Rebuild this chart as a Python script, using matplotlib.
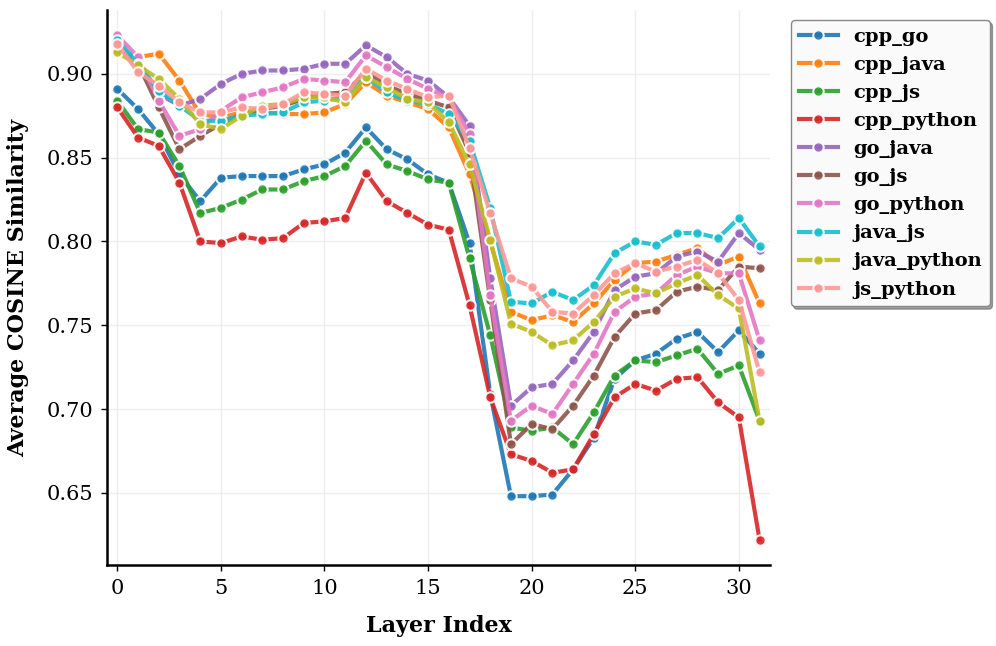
import numpy as np
import matplotlib
matplotlib.use("Agg")
from matplotlib import pyplot as plt

layers = np.arange(32)

cpp_go = [0.891, 0.879, 0.864, 0.840, 0.824, 0.838, 0.839, 0.839, 0.839, 0.843, 0.846, 0.853,
          0.868, 0.855, 0.849, 0.840, 0.835, 0.799, 0.709, 0.648, 0.648, 0.649, 0.664, 0.683,
          0.718, 0.729, 0.733, 0.742, 0.746, 0.734, 0.747, 0.733]
cpp_java = [0.914, 0.910, 0.912, 0.896, 0.876, 0.874, 0.877, 0.877, 0.876, 0.876, 0.877, 0.882,
            0.895, 0.887, 0.883, 0.879, 0.868, 0.840, 0.800, 0.758, 0.753, 0.756, 0.752, 0.763,
            0.777, 0.787, 0.788, 0.792, 0.796, 0.786, 0.791, 0.763]
cpp_js = [0.884, 0.867, 0.865, 0.845, 0.817, 0.820, 0.825, 0.831, 0.831, 0.836, 0.839, 0.845,
          0.860, 0.846, 0.842, 0.837, 0.835, 0.790, 0.744, 0.689, 0.687, 0.689, 0.679, 0.698,
          0.720, 0.729, 0.728, 0.732, 0.736, 0.721, 0.726, 0.693]
cpp_python = [0.880, 0.862, 0.857, 0.835, 0.800, 0.799, 0.803, 0.801, 0.802, 0.811, 0.812, 0.814,
              0.841, 0.824, 0.817, 0.810, 0.807, 0.762, 0.707, 0.673, 0.669, 0.662, 0.664, 0.685,
              0.707, 0.715, 0.711, 0.718, 0.719, 0.704, 0.695, 0.622]
go_java = [0.917, 0.908, 0.888, 0.881, 0.885, 0.894, 0.900, 0.902, 0.902, 0.903, 0.906, 0.906,
           0.917, 0.910, 0.900, 0.896, 0.886, 0.869, 0.778, 0.702, 0.713, 0.715, 0.729, 0.746,
           0.771, 0.779, 0.781, 0.791, 0.794, 0.788, 0.805, 0.795]
go_js = [0.915, 0.906, 0.880, 0.855, 0.863, 0.870, 0.876, 0.879, 0.881, 0.885, 0.888, 0.889,
         0.901, 0.893, 0.888, 0.884, 0.880, 0.853, 0.765, 0.679, 0.691, 0.688, 0.702, 0.720,
         0.743, 0.757, 0.759, 0.770, 0.773, 0.771, 0.785, 0.784]
go_python = [0.923, 0.910, 0.884, 0.863, 0.867, 0.878, 0.886, 0.889, 0.892, 0.897, 0.896, 0.895,
             0.911, 0.904, 0.897, 0.891, 0.886, 0.864, 0.768, 0.693, 0.702, 0.697, 0.715, 0.733,
             0.758, 0.767, 0.769, 0.780, 0.785, 0.781, 0.781, 0.741]
java_js = [0.920, 0.906, 0.890, 0.881, 0.872, 0.872, 0.875, 0.876, 0.877, 0.883, 0.884, 0.886,
           0.898, 0.889, 0.884, 0.882, 0.876, 0.860, 0.820, 0.764, 0.763, 0.770, 0.765, 0.774,
           0.793, 0.800, 0.798, 0.805, 0.805, 0.802, 0.814, 0.797]
java_python = [0.913, 0.905, 0.897, 0.885, 0.870, 0.867, 0.875, 0.881, 0.882, 0.886, 0.886, 0.883,
               0.898, 0.892, 0.885, 0.883, 0.871, 0.846, 0.801, 0.751, 0.746, 0.738, 0.741, 0.752,
               0.767, 0.772, 0.769, 0.775, 0.780, 0.768, 0.760, 0.693]
js_python = [0.918, 0.901, 0.893, 0.883, 0.877, 0.877, 0.880, 0.879, 0.882, 0.889, 0.888, 0.887,
             0.903, 0.896, 0.891, 0.886, 0.887, 0.856, 0.817, 0.778, 0.773, 0.758, 0.757, 0.768,
             0.781, 0.787, 0.782, 0.785, 0.789, 0.781, 0.765, 0.722]

series = {
    "cpp_go": cpp_go, "cpp_java": cpp_java, "cpp_js": cpp_js, "cpp_python": cpp_python,
    "go_java": go_java, "go_js": go_js, "go_python": go_python, "java_js": java_js,
    "java_python": java_python, "js_python": js_python,
}
colors = ['#1f77b4', '#ff7f0e', '#2ca02c', '#d62728', '#9467bd',
          '#8c564b', '#e377c2', '#17becf', '#bcbd22', '#ff9896']

plt.rcParams['font.family'] = 'DejaVu Serif'

fig = plt.figure(figsize=(9.96, 6.46), dpi=100)
ax = fig.add_axes([0.1074, 0.1254, 0.6656, 0.859])

for (name, vals), c in zip(series.items(), colors):
    ax.plot(layers, vals, color=c, linewidth=3, marker='o', markersize=7.5,
            markeredgecolor='white', markeredgewidth=1.5, alpha=0.9, label=name)

ax.set_xlim(-0.5, 31.5)
ax.set_xticks([0, 5, 10, 15, 20, 25, 30])
ax.set_yticks([0.65, 0.70, 0.75, 0.80, 0.85, 0.90])
ax.grid(True, color='#e8e8e8', linewidth=1, alpha=0.7)
ax.set_axisbelow(True)
for s in ['top', 'right']:
    ax.spines[s].set_visible(False)
for s in ['left', 'bottom']:
    ax.spines[s].set_color('black')
    ax.spines[s].set_linewidth(1.8)
ax.tick_params(labelsize=15, length=4, width=1, pad=6)

ax.set_xlabel("Layer Index", fontsize=16, fontweight='bold', labelpad=12)
ax.set_ylabel("Average COSINE Similarity", fontsize=16, fontweight='bold', labelpad=12)

leg = ax.legend(loc='upper left', bbox_to_anchor=(1.017, 1.0),
                prop={'weight': 'bold', 'size': 14}, frameon=True, shadow=True,
                fancybox=True, handlelength=2.0, labelspacing=0.52, borderpad=0.4)
leg.get_frame().set_edgecolor('#888888')
leg.get_frame().set_facecolor('#fafafa')

plt.savefig("out.png", dpi=100)
